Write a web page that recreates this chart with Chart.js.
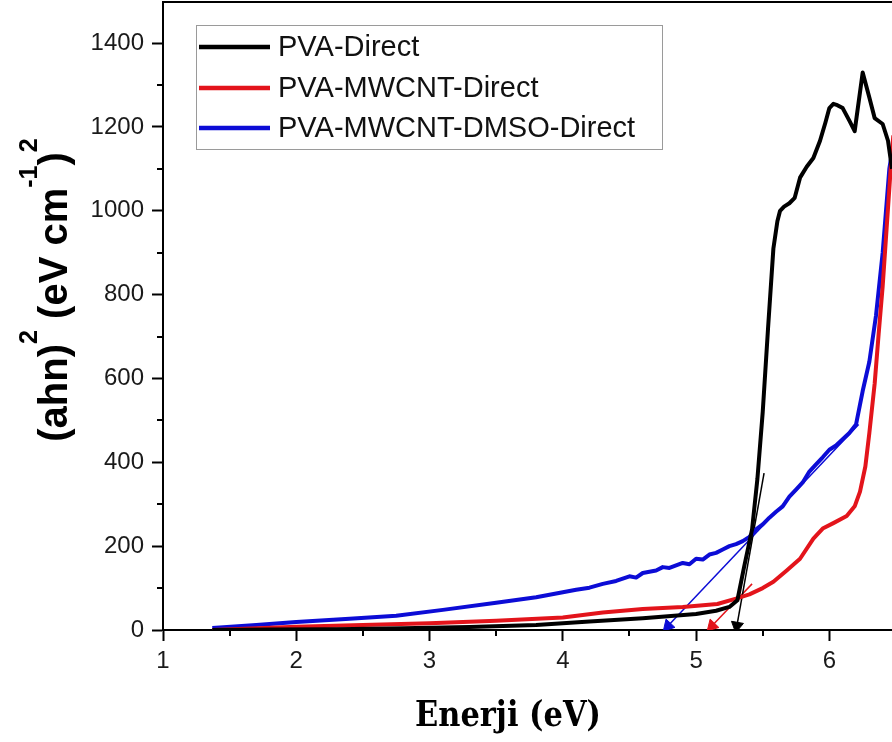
<!DOCTYPE html>
<html>
<head>
<meta charset="utf-8">
<script src="https://cdn.jsdelivr.net/npm/chart.js@4"></script>
<style>
  html, body { margin: 0; padding: 0; background: #fff; }
  #wrap { width: 892px; height: 742px; position: relative; }
</style>
</head>
<body>
<div id="wrap"><canvas id="chart"></canvas></div>
<script>
// series (eV, (ahn)^2)
const seriesNames = ['PVA-Direct', 'PVA-MWCNT-Direct', 'PVA-MWCNT-DMSO-Direct'];
const seriesColors = ['#000000', '#e3141b', '#0c0cd6'];

const blackX = [1.37, 1.8, 2.3, 2.8, 3.3, 3.8, 4.2, 4.6, 5.0, 5.15, 5.25, 5.31, 5.36, 5.42, 5.46, 5.50, 5.54, 5.58, 5.61, 5.63, 5.66, 5.70, 5.74, 5.78, 5.83, 5.88, 5.93, 5.97, 6.00, 6.03, 6.06, 6.10, 6.15, 6.19, 6.25, 6.30, 6.34, 6.40, 6.44, 6.47];
const blackY = [0, 1, 2, 4, 7, 12, 20, 28, 38, 46, 55, 71, 150, 240, 360, 520, 720, 910, 975, 1000, 1010, 1018, 1031, 1079, 1105, 1126, 1167, 1210, 1245, 1255, 1252, 1245, 1215, 1190, 1330, 1270, 1221, 1207, 1167, 1100];

const redX = [1.37, 2.0, 2.5, 3.0, 3.5, 4.0, 4.3, 4.6, 4.9, 5.16, 5.3, 5.4, 5.5, 5.58, 5.68, 5.78, 5.88, 5.95, 6.03, 6.13, 6.19, 6.23, 6.27, 6.30, 6.34, 6.37, 6.40, 6.43, 6.46, 6.48];
const redY = [0, 8, 12, 16, 22, 30, 42, 50, 55, 62, 75, 85, 100, 115, 142, 170, 218, 242, 255, 272, 295, 330, 390, 470, 588, 707, 820, 960, 1100, 1180];

const blueX = [1.37, 1.7, 2.0, 2.4, 2.75, 3.1, 3.5, 3.8, 4.0, 4.1, 4.2, 4.3, 4.4, 4.5, 4.55, 4.6, 4.7, 4.75, 4.8, 4.9, 4.95, 5.0, 5.05, 5.1, 5.15, 5.2, 5.25, 5.3, 5.35, 5.4, 5.45, 5.5, 5.55, 5.6, 5.65, 5.7, 5.75, 5.8, 5.85, 5.9, 5.95, 6.0, 6.05, 6.1, 6.15, 6.2, 6.25, 6.3, 6.35, 6.4, 6.45, 6.48];
const blueY = [5, 12, 19, 27, 34, 48, 65, 78, 90, 96, 101, 110, 117, 128, 125, 136, 142, 150, 148, 160, 157, 170, 168, 180, 184, 192, 200, 205, 212, 222, 240, 252, 268, 282, 295, 318, 335, 352, 378, 395, 412, 430, 440, 455, 470, 490, 570, 640, 750, 900, 1100, 1160];

// tangent (extrapolation) lines, last point carries the arrow head
const tangentBlackX = [5.51, 5.306], tangentBlackY = [374, 10];
const tangentRedX = [5.42, 5.12], tangentRedY = [110, 10];
const tangentBlueX = [6.22, 4.79], tangentBlueY = [490, 10];
const arrowRotations = [190, 224, 223];

const xTickMinor = [1.5, 2.5, 3.5, 4.5, 5.5];
const yTickMinor = [100, 300, 500, 700, 900, 1100, 1300];

const toPts = (xs, ys) => xs.map((x, i) => ({ x: x, y: ys[i] }));

function curve(i, xs, ys) {
  return {
    label: seriesNames[i],
    data: toPts(xs, ys),
    borderColor: seriesColors[i],
    backgroundColor: seriesColors[i],
    borderWidth: 4,
    pointRadius: 0,
    tension: 0,
    borderJoinStyle: 'round'
  };
}

function tangent(i, xs, ys) {
  return {
    label: 'tangent',
    data: toPts(xs, ys),
    borderColor: seriesColors[i],
    backgroundColor: seriesColors[i],
    borderWidth: 1.5,
    pointStyle: 'triangle',
    pointRadius: [0, 7],
    pointRotation: [0, arrowRotations[i]],
    pointBorderWidth: 1,
    tension: 0
  };
}

const FONT = '"Liberation Sans", Arial, sans-serif';

const decor = {
  id: 'decor',
  afterDraw(chart) {
    const ctx = chart.ctx;
    const a = chart.chartArea;
    const xs = chart.scales.x, ys = chart.scales.y;
    ctx.save();

    // top frame line
    ctx.strokeStyle = '#000';
    ctx.lineWidth = 2;
    ctx.beginPath();
    ctx.moveTo(a.left, a.top);
    ctx.lineTo(a.right, a.top);
    ctx.stroke();

    // minor ticks
    ctx.beginPath();
    xTickMinor.forEach(v => {
      const px = Math.round(xs.getPixelForValue(v));
      ctx.moveTo(px, a.bottom);
      ctx.lineTo(px, a.bottom + 6);
    });
    yTickMinor.forEach(v => {
      const py = Math.round(ys.getPixelForValue(v));
      ctx.moveTo(a.left, py);
      ctx.lineTo(a.left - 6, py);
    });
    ctx.stroke();

    // legend box
    ctx.fillStyle = '#fff';
    ctx.fillRect(196.5, 25.5, 466, 124);
    ctx.strokeStyle = '#9a9a9a';
    ctx.lineWidth = 1;
    ctx.strokeRect(196.5, 25.5, 466, 124);
    const rows = [47, 88, 128];
    ctx.font = '29px ' + FONT;
    ctx.textBaseline = 'middle';
    ctx.textAlign = 'left';
    seriesNames.forEach((name, i) => {
      ctx.strokeStyle = seriesColors[i];
      ctx.lineWidth = 4.5;
      ctx.beginPath();
      ctx.moveTo(199, rows[i]);
      ctx.lineTo(270, rows[i]);
      ctx.stroke();
      ctx.fillStyle = '#111';
      ctx.fillText(name, 278, rows[i] + 1);
    });

    // x axis title
    ctx.font = 'bold 36px "DejaVu Serif", serif';
    ctx.textAlign = 'left';
    ctx.textBaseline = 'alphabetic';
    const xt = 'Enerji (eV)';
    const w = ctx.measureText(xt).width;
    const sx = 186 / w;
    ctx.save();
    ctx.translate(508, 726);
    ctx.scale(sx, 1);
    ctx.fillStyle = '#000';
    ctx.fillText(xt, -w / 2, 0);
    ctx.restore();

    // y axis title with superscripts
    const big = 'bold 40px ' + FONT, small = 'bold 25px ' + FONT;
    const pieces = [['(ahn)', 0], ['2', 1], [' (eV cm', 0], ['-1', 1], [')', 0], ['2', 1]];
    let total = 0;
    pieces.forEach(p => { ctx.font = p[1] ? small : big; total += ctx.measureText(p[0]).width; });
    ctx.save();
    ctx.translate(52, 290);
    ctx.rotate(-Math.PI / 2);
    ctx.fillStyle = '#000';
    let cx = -total / 2;
    pieces.forEach(p => {
      ctx.font = p[1] ? small : big;
      ctx.fillText(p[0], cx, p[1] ? -15 : 15);
      cx += ctx.measureText(p[0]).width;
    });
    ctx.restore();

    ctx.restore();
  }
};

const noPad = s => { s.paddingTop = 0; s.paddingBottom = 0; s.paddingLeft = 0; s.paddingRight = 0; };

new Chart(document.getElementById('chart'), {
  type: 'line',
  data: {
    datasets: [
      curve(0, blackX, blackY),
      curve(1, redX, redY),
      curve(2, blueX, blueY),
      tangent(0, tangentBlackX, tangentBlackY),
      tangent(1, tangentRedX, tangentRedY),
      tangent(2, tangentBlueX, tangentBlueY)
    ]
  },
  options: {
    responsive: true,
    maintainAspectRatio: false,
    animation: false,
    layout: { autoPadding: false, padding: { top: 2, right: 0, left: 0, bottom: 0 } },
    plugins: {
      legend: { display: false },
      tooltip: { enabled: false }
    },
    scales: {
      x: {
        type: 'linear',
        min: 1,
        max: 6.47,
        afterFit: s => { s.height = 112; noPad(s); },
        border: { color: '#000', width: 2 },
        grid: { drawOnChartArea: false, drawTicks: true, tickLength: 11, tickWidth: 2, tickColor: '#000' },
        ticks: { stepSize: 1, includeBounds: false, color: '#1a1a1a', padding: 6, font: { family: FONT, size: 24 },
                 callback: v => String(v) }
      },
      y: {
        min: 0,
        max: 1498,
        afterFit: s => { s.width = 163; noPad(s); },
        border: { color: '#000', width: 2 },
        grid: { drawOnChartArea: false, drawTicks: true, tickLength: 11, tickWidth: 2, tickColor: '#000' },
        ticks: { stepSize: 200, includeBounds: false, color: '#1a1a1a', padding: 8, font: { family: FONT, size: 24 },
                 callback: v => String(v) }
      }
    }
  },
  plugins: [decor]
});
</script>
</body>
</html>
